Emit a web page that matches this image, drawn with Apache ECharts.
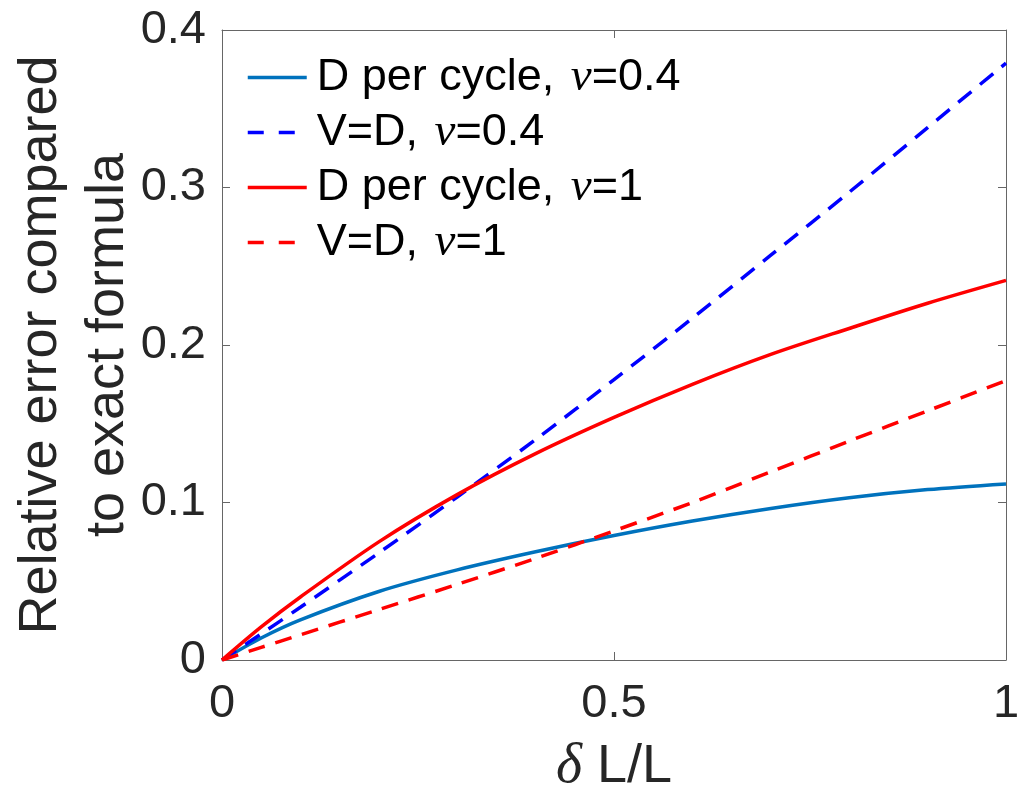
<!DOCTYPE html>
<html>
<head>
<meta charset="utf-8">
<script src="https://cdn.jsdelivr.net/npm/echarts@6/dist/echarts.min.js"></script>
<style>html,body{margin:0;padding:0;background:#fff;}#c{width:1017px;height:793px;}</style>
</head>
<body>
<div id="c"></div>
<script>
// delta L / L sample points
const xVals = [0, 0.05, 0.1, 0.2, 0.3, 0.4, 0.5, 0.6, 0.7, 0.8, 0.9, 1.0];
// D per cycle, nu = 0.4
const dPerCycle04 = [0, 0.0140, 0.0255, 0.0435, 0.0572, 0.0687, 0.0790, 0.0882, 0.0962, 0.1030, 0.1082, 0.1118];
// V = D, nu = 0.4
const vEqD04 = [0, 0.0166, 0.0335, 0.068, 0.1035, 0.140, 0.178, 0.217, 0.257, 0.297, 0.338, 0.379];
// D per cycle, nu = 1
const dPerCycle1 = [0, 0.021, 0.040, 0.075, 0.105, 0.131, 0.154, 0.175, 0.194, 0.2105, 0.2265, 0.241];
// V = D, nu = 1
const vEqD1 = [0, 0.008, 0.016, 0.032, 0.048, 0.0645, 0.082, 0.100, 0.1195, 0.139, 0.1582, 0.1774];

const seriesNames = ['D per cycle, ν=0.4', 'V=D, ν=0.4', 'D per cycle, ν=1', 'V=D, ν=1'];
const xTicks = [0, 0.5, 1];
const yTicks = [0, 0.1, 0.2, 0.3, 0.4];

const pairs = arr => xVals.map((x, i) => [x, arr[i]]);

const SANS = '"Liberation Sans", Arial, Helvetica, sans-serif';
const SERIF = '"Liberation Serif", "Times New Roman", serif';
const AX = '#666666';
const TXT = '#262626';

const chart = echarts.init(document.getElementById('c'), null, {renderer: 'canvas'});

function mkSeries(name, data, color, dashed) {
  return {
    name: name, type: 'line', data: pairs(data),
    xAxisIndex: 0, yAxisIndex: 0,
    showSymbol: false, symbol: 'none', smooth: 0.3,
    lineStyle: {color: color, width: 3.5, type: dashed ? [17, 11] : 'solid'},
    itemStyle: {color: color},
    emphasis: {disabled: true}, animation: false
  };
}

const option = {
  animation: false,
  backgroundColor: '#fff',
  grid: {left: 222, right: 11, top: 30, bottom: 133, show: false, containLabel: false, outerBoundsMode: 'none'},
  legend: {
    orient: 'vertical', left: 246, top: 54, padding: 0,
    itemWidth: 59, itemHeight: 20, itemGap: 8,
    data: [
      {name: seriesNames[0]},
      {name: seriesNames[1], lineStyle: {type: [16, 15], width: 3.5}},
      {name: seriesNames[2]},
      {name: seriesNames[3], lineStyle: {type: [16, 15], width: 3.5}}
    ],
    itemStyle: {opacity: 0, color: 'rgba(0,0,0,0)', borderWidth: 0},
    lineStyle: {width: 3.5},
    formatter: function (name) {
      const parts = name.split('ν');
      return '{f|' + parts[0] + '}{n|ν}{t|' + parts[1] + '}';
    },
    textStyle: {
      color: '#000', fontFamily: SANS, fontSize: 45, lineHeight: 45,
      rich: {
        f: {fontFamily: SANS, fontSize: 45, lineHeight: 45, color: '#000', padding: [0, 4, 0, 5]},
        n: {fontFamily: SERIF, fontStyle: 'italic', fontSize: 47, lineHeight: 45, color: '#000'},
        t: {fontFamily: SANS, fontSize: 45, lineHeight: 45, color: '#000'}
      }
    }
  },
  xAxis: [{
    type: 'value', min: 0, max: 1, interval: 0.5, position: 'bottom',
    name: '{d|δ} L/L', nameLocation: 'middle', nameGap: 80, nameMoveOverlap: false,
    nameTextStyle: {
      fontFamily: SANS, fontSize: 54, color: TXT, lineHeight: 54,
      rich: {d: {fontFamily: SERIF, fontStyle: 'italic', fontSize: 56, color: TXT, lineHeight: 54}}
    },
    axisLine: {show: true, lineStyle: {color: AX, width: 1}},
    axisTick: {show: true, inside: true, length: 8, lineStyle: {color: AX}},
    axisLabel: {show: true, margin: 21, fontFamily: SANS, fontSize: 47, color: TXT,
      formatter: v => String(v)},
    splitLine: {show: false}
  }, {
    type: 'value', min: 0, max: 1, interval: 0.5, position: 'top',
    axisLine: {show: true, onZero: false, lineStyle: {color: AX, width: 1}},
    axisTick: {show: true, inside: true, length: 8, lineStyle: {color: AX}},
    axisLabel: {show: false}, splitLine: {show: false}
  }],
  yAxis: [{
    type: 'value', min: 0, max: 0.4, interval: 0.1, position: 'left',
    name: 'Relative error compared\nto exact formula', nameLocation: 'middle', nameRotate: 90, nameGap: 80,
    nameMoveOverlap: false,
    nameTextStyle: {fontFamily: SANS, fontSize: 54, color: TXT, lineHeight: 67, align: 'center'},
    axisLine: {show: true, onZero: false, lineStyle: {color: AX, width: 1}},
    axisTick: {show: true, inside: true, length: 8, lineStyle: {color: AX}},
    axisLabel: {show: true, margin: 16, fontFamily: SANS, fontSize: 47, color: TXT,
      formatter: v => String(Math.round(v * 10) / 10)},
    splitLine: {show: false}
  }, {
    type: 'value', min: 0, max: 0.4, interval: 0.1, position: 'right',
    axisLine: {show: true, onZero: false, lineStyle: {color: AX, width: 1}},
    axisTick: {show: true, inside: true, length: 8, lineStyle: {color: AX}},
    axisLabel: {show: false}, splitLine: {show: false}
  }],
  series: [
    mkSeries(seriesNames[0], dPerCycle04, '#0072BD', false),
    mkSeries(seriesNames[1], vEqD04, '#0000FF', true),
    mkSeries(seriesNames[2], dPerCycle1, '#FF0000', false),
    mkSeries(seriesNames[3], vEqD1, '#FF0000', true)
  ]
};
chart.setOption(option);
</script>
</body>
</html>
